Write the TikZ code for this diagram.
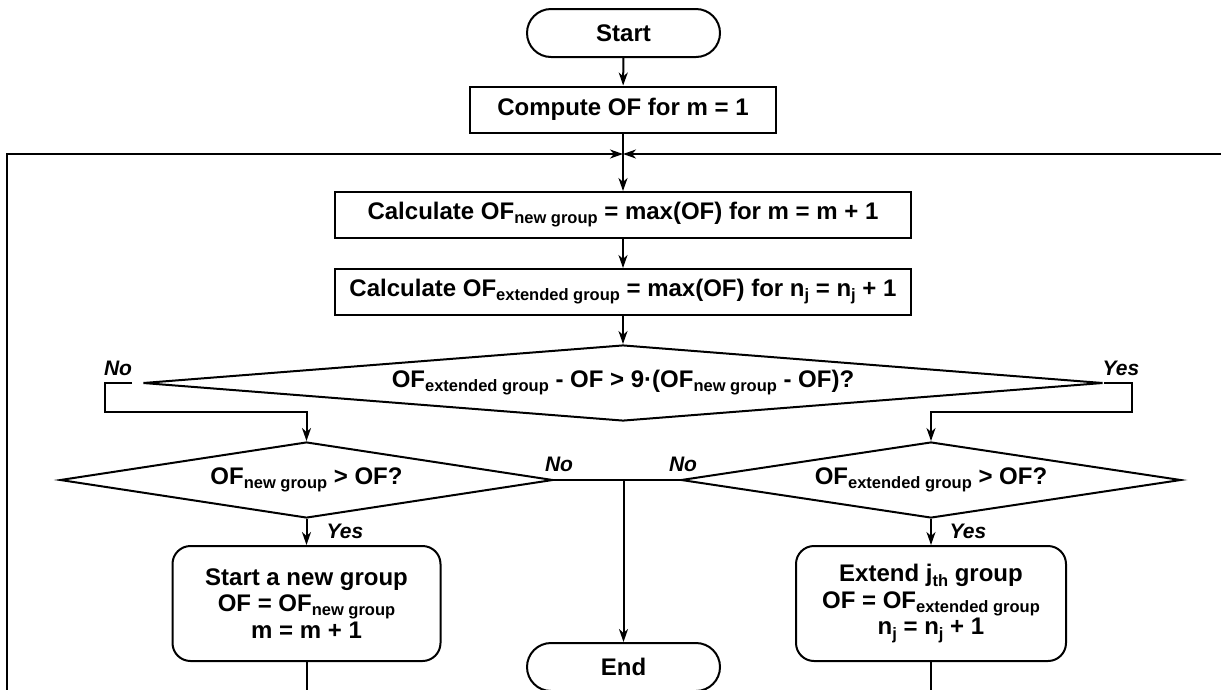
\documentclass[tikz,border=0pt]{standalone}
\usepackage{fontspec}
\setmainfont{Liberation Sans}
\usetikzlibrary{shapes.geometric,shapes.misc,arrows.meta}
\newcommand\sbx[1]{\raisebox{-0.17em}{\fontsize{16.5}{16.5}\selectfont #1}}
\begin{document}
\begin{tikzpicture}[x=1pt,y=-1pt,
  base/.style={font=\fontsize{24}{26.5}\selectfont\bfseries, line width=2pt, draw, inner sep=0pt},
  term/.style={base, rounded rectangle, minimum width=193pt, minimum height=48pt},
  proc/.style={base, rectangle, minimum height=46pt},
  dec/.style={base, diamond, minimum height=76pt},
  act/.style={base, rectangle, rounded corners=18pt, minimum height=115pt, align=center},
  lbl/.style={font=\fontsize{21}{21}\selectfont\bfseries\itshape, inner sep=0pt},
  arr/.style={line width=2pt, -{Stealth[length=13pt,width=9pt,inset=4pt]}},
  ln/.style={line width=2pt}]
\useasboundingbox (0,0) rectangle (1221,689);

\node[term] (start) at (623.5,33) {Start};
\node[proc, minimum width=306pt] (comp) at (623,109.5) {Compute OF for m = 1};
\coordinate (j) at (623,154);
\node[proc, minimum width=576pt] (calc1) at (623,215) {Calculate OF\sbx{new group} = max(OF) for m = m + 1};
\node[proc, minimum width=576pt] (calc2) at (623,292) {Calculate OF\sbx{extended group} = max(OF) for n\sbx{j} = n\sbx{j} + 1};
\node[dec, minimum width=960pt, aspect=12.6] (d1) at (623,383) {OF\sbx{extended group} - OF > 9·(OF\sbx{new group} - OF)?};
\node[dec, minimum width=493pt, aspect=6.5] (d2l) at (306.5,480) {OF\sbx{new group} > OF?};
\node[dec, minimum width=500pt, aspect=6.6] (d2r) at (931,480) {OF\sbx{extended group} > OF?};
\node[act, minimum width=268pt] (nl) at (306.5,603.5) {Start a new group\\OF = OF\sbx{new group}\\m = m + 1};
\node[act, minimum width=270pt] (nr) at (931,603.5) {Extend j\sbx{th} group\\OF = OF\sbx{extended group}\\n\sbx{j} = n\sbx{j} + 1};
\node[term] (endn) at (623.5,667) {End};

% labels
\node[lbl] (no1) at (118,368) {No};
\node[lbl] (yes1) at (1121,368) {Yes};
\node[lbl] (no2) at (559,464) {No};
\node[lbl] (no3) at (683,464) {No};
\node[lbl] (yes2) at (345,531) {Yes};
\node[lbl] (yes3) at (968,531) {Yes};

% coordinates
\coordinate (lb) at (7,700);
\coordinate (rb) at (1230,154);
\coordinate (nA) at (105,383);
\coordinate (nB) at (105,412);
\coordinate (yA) at (1132,383);
\coordinate (yB) at (1132,412);
\coordinate (bl) at (306.5,700);
\coordinate (br) at (931,700);

% connectors
\draw[arr] (start) -- (comp);
\draw[ln] (comp.south) -- (j);
\draw[arr] (j) -- (calc1);
\draw[arr] (lb) |- (j);
\draw[arr] (rb) -- (j);
\draw[arr] (calc1) -- (calc2);
\draw[arr] (calc2) -- (d1.north);
\draw[arr, shorten <=10pt] (d1.west) -- (nA) -- (nB) -| (d2l.north);
\draw[arr] (d1.east) -- (yA) -- (yB) -| (d2r.north);
\draw[ln] (d2l.east) -- (d2r.west);
\draw[arr] (d2l.east -| endn.north) -- (endn.north);
\draw[arr] (d2l.south) -- (nl.north);
\draw[arr] (d2r.south) -- (nr.north);
\draw[ln] (nl.south) -- (bl);
\draw[ln] (nr.south) -- (br);
\end{tikzpicture}
\end{document}
